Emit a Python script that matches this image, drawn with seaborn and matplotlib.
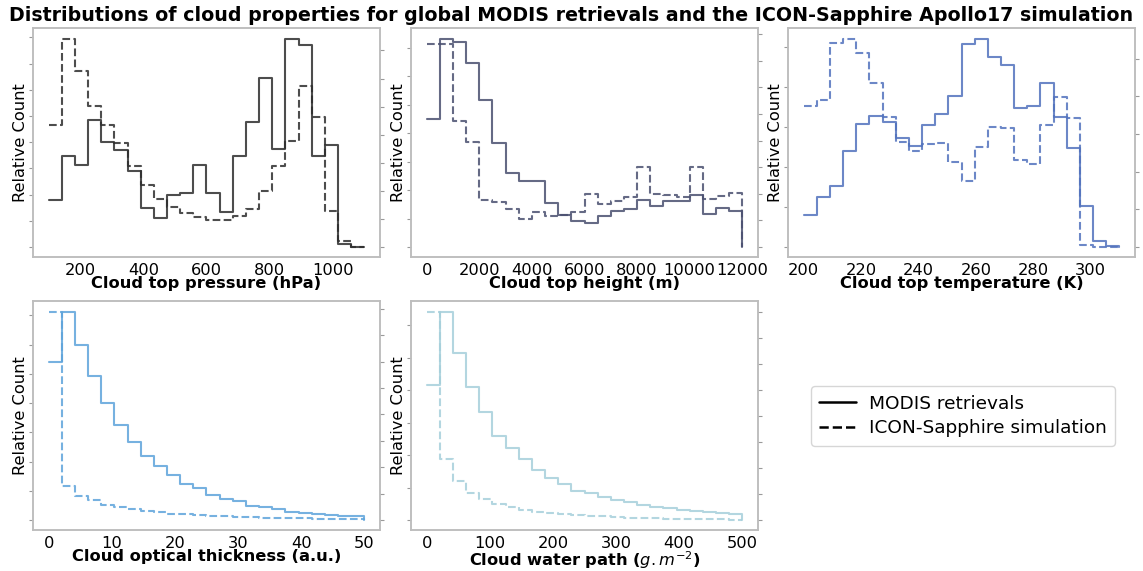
import numpy as np
import pandas as pd
import matplotlib
matplotlib.use("Agg")
import matplotlib.pyplot as plt
from matplotlib.ticker import MultipleLocator, NullFormatter
from matplotlib.lines import Line2D
import seaborn as sns

# ---------------- data (relative counts, each series scaled to its own max) ----------------
# Cloud top pressure (hPa): 24 bins from 100 to 1100
ctp_edges = np.linspace(100, 1100, 25)
ctp_modis = [0.228, 0.439, 0.393, 0.612, 0.506, 0.465, 0.364, 0.186, 0.141, 0.252, 0.260, 0.393,
             0.260, 0.170, 0.439, 0.601, 0.812, 0.471, 1.000, 0.971, 0.439, 0.492, 0.016, 0.001]
ctp_icon = [0.588, 1.000, 0.845, 0.676, 0.587, 0.498, 0.391, 0.298, 0.232, 0.191, 0.163, 0.144,
            0.131, 0.131, 0.147, 0.184, 0.269, 0.388, 0.510, 0.776, 0.625, 0.173, 0.030, 0.001]

# Cloud top height (m): 24 bins from 0 to 12000
cth_edges = np.linspace(0, 12000, 25)
cth_modis = [0.617, 1.000, 0.986, 0.883, 0.707, 0.498, 0.354, 0.317, 0.319, 0.212, 0.154, 0.125,
             0.117, 0.147, 0.171, 0.183, 0.226, 0.197, 0.220, 0.220, 0.248, 0.160, 0.188, 0.173]
cth_icon = [0.976, 0.976, 0.604, 0.503, 0.228, 0.215, 0.183, 0.135, 0.170, 0.147, 0.154, 0.167,
            0.256, 0.208, 0.220, 0.239, 0.383, 0.256, 0.248, 0.240, 0.385, 0.231, 0.247, 0.260]

# Cloud top temperature (K): 24 bins from 200 to 310
ctt_edges = np.linspace(200, 310, 25)
ctt_modis = [0.152, 0.240, 0.292, 0.463, 0.591, 0.628, 0.601, 0.524, 0.487, 0.588, 0.639, 0.724,
             0.976, 1.000, 0.912, 0.875, 0.668, 0.679, 0.787, 0.625, 0.476, 0.196, 0.030, 0.003]
ctt_icon = [0.678, 0.707, 0.981, 1.000, 0.931, 0.790, 0.623, 0.505, 0.462, 0.494, 0.502, 0.407,
            0.317, 0.482, 0.579, 0.571, 0.417, 0.401, 0.588, 0.723, 0.622, 0.010, 0.001, 0.001]

# Cloud optical thickness (a.u.): 24 bins from 0 to 50
cot_edges = np.linspace(0, 50, 25)
cot_modis = [0.762, 1.000, 0.843, 0.693, 0.562, 0.456, 0.374, 0.307, 0.258, 0.218, 0.173, 0.152,
             0.122, 0.103, 0.091, 0.067, 0.061, 0.051, 0.040, 0.034, 0.029, 0.022, 0.019, 0.018]
cot_icon = [1.000, 0.164, 0.117, 0.095, 0.072, 0.061, 0.051, 0.045, 0.039, 0.030, 0.027, 0.022,
            0.021, 0.018, 0.014, 0.013, 0.011, 0.010, 0.008, 0.008, 0.006, 0.006, 0.005, 0.005]

# Cloud water path (g m-2): 24 bins from 0 to 500
cwp_edges = np.linspace(0, 500, 25)
cwp_modis = [0.650, 1.000, 0.801, 0.640, 0.517, 0.403, 0.348, 0.291, 0.242, 0.202, 0.172, 0.141,
             0.128, 0.112, 0.098, 0.085, 0.072, 0.063, 0.058, 0.050, 0.045, 0.039, 0.035, 0.029]
cwp_icon = [1.000, 0.295, 0.186, 0.128, 0.100, 0.075, 0.063, 0.050, 0.040, 0.035, 0.027, 0.022,
            0.019, 0.018, 0.014, 0.011, 0.010, 0.008, 0.006, 0.005, 0.005, 0.003, 0.003, 0.002]

xlabels = ["Cloud top pressure (hPa)", "Cloud top height (m)", "Cloud top temperature (K)",
           "Cloud optical thickness (a.u.)", r"Cloud water path ($g.m^{-2}$)"]
colors = ["#2e2e2e", "#4a5070", "#5272bd", "#5ea4db", "#a6cfdb"]
title = ("Distributions of cloud properties for global MODIS retrievals "
         "and the ICON-Sapphire Apollo17 simulation")
legend_labels = ["MODIS retrievals", "ICON-Sapphire simulation"]

panels = [
    (ctp_edges, ctp_modis, ctp_icon),
    (cth_edges, cth_modis, cth_icon),
    (ctt_edges, ctt_modis, ctt_icon),
    (cot_edges, cot_modis, cot_icon),
    (cwp_edges, cwp_modis, cwp_icon),
]
# tick spacing (styling only; tick labels are hidden)
tick_steps = [(0.126, 0.135), (0.137, 0.128), (0.192, 0.181), (0.1406, 0.127), (0.156, 0.125)]

# ---------------- style ----------------
sns.set_style("white")
plt.rcParams["font.family"] = ["DejaVu Sans"]
plt.rcParams["text.color"] = "black"
plt.rcParams["axes.labelcolor"] = "black"
plt.rcParams["axes.edgecolor"] = "#bdbdbd"
plt.rcParams["axes.linewidth"] = 1.1

W, H = 1143, 571
fig = plt.figure(figsize=(W / 100, H / 100), dpi=100)

lefts = [33, 411, 788, 33, 411]
tops = [28, 28, 28, 301, 301]
aw, ah = 347, 229

for i, ((edges, modis, icon), col) in enumerate(zip(panels, colors)):
    ax = fig.add_axes([lefts[i] / W, 1 - (tops[i] + ah) / H, aw / W, ah / H])
    ax2 = ax.twinx()
    df_m = pd.DataFrame({"x": edges, "y": np.append(modis, 0.0)})
    df_i = pd.DataFrame({"x": edges, "y": np.append(icon, 0.0)})
    sns.lineplot(data=df_m, x="x", y="y", ax=ax, color=col, linewidth=1.5,
                 drawstyle="steps-post", estimator=None, alpha=0.85)
    sns.lineplot(data=df_i, x="x", y="y", ax=ax2, color=col, linewidth=1.5,
                 linestyle="--", drawstyle="steps-post", estimator=None, alpha=0.85)
    for a, step in zip((ax, ax2), tick_steps[i]):
        a.set_ylim(-0.048, 1.053)
        a.yaxis.set_major_locator(MultipleLocator(step))
        a.yaxis.set_major_formatter(NullFormatter())
        a.set_ylabel("")
        a.tick_params(axis="y", length=3, width=0.8, color="#9a9a9a")
        for s in a.spines.values():
            s.set_color("#bdbdbd")
    ax.tick_params(axis="x", labelsize=11.7, length=3, width=0.8, color="#9a9a9a",
                   labelcolor="black", pad=1.5)
    ax.set_ylabel("Relative Count", fontsize=11.7, labelpad=-3)
    ax.set_xlabel(xlabels[i], fontsize=11.7, fontweight="bold", labelpad=-1.5)
    ax.margins(x=0.05)

fig.suptitle(title, fontsize=13.7, fontweight="bold", y=0.99, va="top")

handles = [Line2D([], [], color="black", linewidth=1.8),
           Line2D([], [], color="black", linewidth=1.8, linestyle="--")]
leg = fig.legend(handles, legend_labels, loc="center",
                 bbox_to_anchor=(963 / W, 1 - 416 / H), fontsize=13.3,
                 frameon=True, handlelength=2.0, borderpad=0.45, labelspacing=0.35,
                 handletextpad=0.7)
leg.get_frame().set_edgecolor("#cccccc")

fig.savefig("out.png", dpi=100)
